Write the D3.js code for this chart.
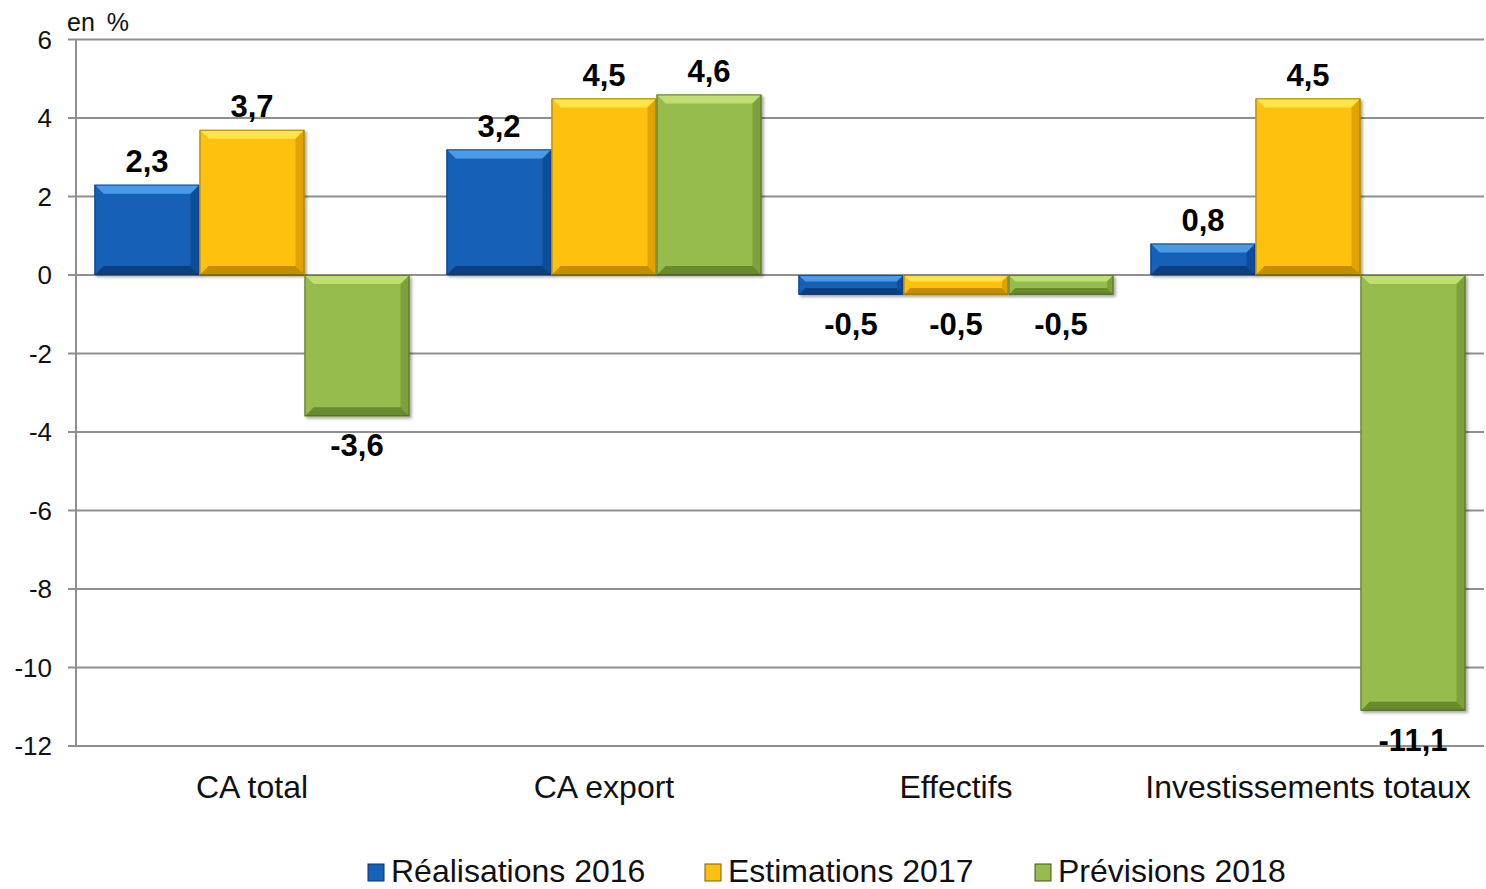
<!DOCTYPE html>
<html><head><meta charset="utf-8">
<script src="https://cdn.jsdelivr.net/npm/d3@7"></script>
<style>
html,body{margin:0;padding:0;background:#fff;}
svg{display:block;font-family:"Liberation Sans",Arial,sans-serif;}
</style></head>
<body>
<svg id="chart" width="1486" height="889"></svg>
<script>
const categories = ["CA total", "CA export", "Effectifs", "Investissements totaux"];
const seriesNames = ["Réalisations 2016", "Estimations 2017", "Prévisions 2018"];
const realisations2016 = [2.3, 3.2, -0.5, 0.8];
const estimations2017 = [3.7, 4.5, -0.5, 4.5];
const previsions2018 = [-3.6, 4.6, -0.5, -11.1];
const yTicks = [6, 4, 2, 0, -2, -4, -6, -8, -10, -12];
const unitLabel = "en %";

const seriesValues = [realisations2016, estimations2017, previsions2018];
const palette = [
  {face:"#1761b8", light:"#4a9bea", dark:"#0b3f80", edge:"#0a3366"},
  {face:"#ffc10f", light:"#ffe34d", dark:"#c58d00", edge:"#7d5c00"},
  {face:"#98bb4e", light:"#bfe070", dark:"#6a8a2e", edge:"#3f561a"}
];

const svg = d3.select("#chart");
const plotLeft = 76, plotRight = 1484, plotTop = 39.5, plotBottom = 746;

const defs = svg.append("defs");
const f = defs.append("filter").attr("id","shadow").attr("x","-10%").attr("y","-10%").attr("width","130%").attr("height","130%");
f.append("feDropShadow").attr("dx",2).attr("dy",2).attr("stdDeviation",1.6).attr("flood-color","#000").attr("flood-opacity",0.35);

const x0 = d3.scaleBand().domain(categories).range([plotLeft, plotRight]).paddingInner(0.105).paddingOuter(0.0525);
const x1 = d3.scaleBand().domain(seriesNames).range([0, x0.bandwidth()]);
const y = d3.scaleLinear().domain([-12, 6]).range([plotBottom, plotTop]);

// gridlines
svg.append("g").selectAll("line").data(yTicks).join("line")
  .attr("x1", plotLeft - 8).attr("x2", plotRight)
  .attr("y1", d => y(d)).attr("y2", d => y(d))
  .attr("stroke", "#8f8f8f").attr("stroke-width", 2);

// y axis line
svg.append("line").attr("x1", plotLeft).attr("x2", plotLeft).attr("y1", plotTop).attr("y2", plotBottom)
  .attr("stroke", "#8f8f8f").attr("stroke-width", 2);

// y tick labels
svg.append("g").selectAll("text").data(yTicks).join("text")
  .attr("x", plotLeft - 24).attr("y", d => y(d)).attr("dy", "0.36em")
  .attr("text-anchor", "end").attr("font-size", 26).attr("fill", "#111")
  .text(d => d3.format("d")(d).replace("−","-"));

svg.append("text").attr("x", 67).attr("y", 31).attr("font-size", 25).attr("fill", "#111")
  .attr("word-spacing", 5).text(unitLabel);

// bars
const data = [];
categories.forEach((c, i) => seriesNames.forEach((s, j) => data.push({cat:c, ser:s, j, v: seriesValues[j][i]})));

const bars = svg.append("g").selectAll("g").data(data).join("g").attr("filter", "url(#shadow)");
bars.each(function(d) {
  const g = d3.select(this);
  const c = palette[d.j];
  const x = x0(d.cat) + x1(d.ser), w = x1.bandwidth();
  const y0 = Math.min(y(d.v), y(0)), h = Math.abs(y(d.v) - y(0));
  const b = Math.min(9, h / 3);
  const x2 = x + w, y2 = y0 + h;
  g.append("rect").attr("x", x).attr("y", y0).attr("width", w).attr("height", h).attr("fill", c.face);
  g.append("polygon").attr("points", [[x,y0],[x2,y0],[x2-b,y0+b],[x+b,y0+b]].join(" ")).attr("fill", c.light);
  g.append("polygon").attr("points", [[x,y2],[x2,y2],[x2-b,y2-b],[x+b,y2-b]].join(" ")).attr("fill", c.dark);
  g.append("polygon").attr("points", [[x,y0],[x+b,y0+b],[x+b,y2-b],[x,y2]].join(" ")).attr("fill", c.face).attr("opacity", 0.9);
  g.append("polygon").attr("points", [[x2,y0],[x2-b,y0+b],[x2-b,y2-b],[x2,y2]].join(" ")).attr("fill", c.dark).attr("opacity", 0.55);
  g.append("rect").attr("x", x + 0.5).attr("y", y0 + 0.5).attr("width", w - 1).attr("height", Math.max(0, h - 1))
    .attr("fill", "none").attr("stroke", c.edge).attr("stroke-width", 1).attr("stroke-opacity", 0.7);
});

// value labels
svg.append("g").selectAll("text").data(data).join("text")
  .attr("x", d => x0(d.cat) + x1(d.ser) + x1.bandwidth() / 2)
  .attr("y", d => d.v >= 0 ? y(d.v) - 24 : y(d.v) + 29)
  .attr("dy", "0.36em").attr("text-anchor", "middle")
  .attr("font-size", 31).attr("font-weight", "bold").attr("fill", "#000")
  .text(d => d3.format(".1f")(d.v).replace("−", "-").replace(".", ","));

// category labels
svg.append("g").selectAll("text").data(categories).join("text")
  .attr("x", d => x0(d) + x0.bandwidth() / 2).attr("y", 786).attr("dy", "0.36em")
  .attr("text-anchor", "middle").attr("font-size", 32).attr("fill", "#111")
  .text(d => d);

// legend
const legendX = [368, 705, 1035];
const lg = svg.append("g").selectAll("g").data(seriesNames).join("g")
  .attr("transform", (d, i) => `translate(${legendX[i]},871)`);
lg.append("rect").attr("x", 0).attr("y", -7).attr("width", 16).attr("height", 17)
  .attr("fill", (d, i) => palette[i].face).attr("stroke", (d, i) => palette[i].edge).attr("stroke-width", 1);
lg.append("text").attr("x", 23).attr("y", 11).attr("font-size", 32).attr("fill", "#111").text(d => d);
</script>
</body></html>
